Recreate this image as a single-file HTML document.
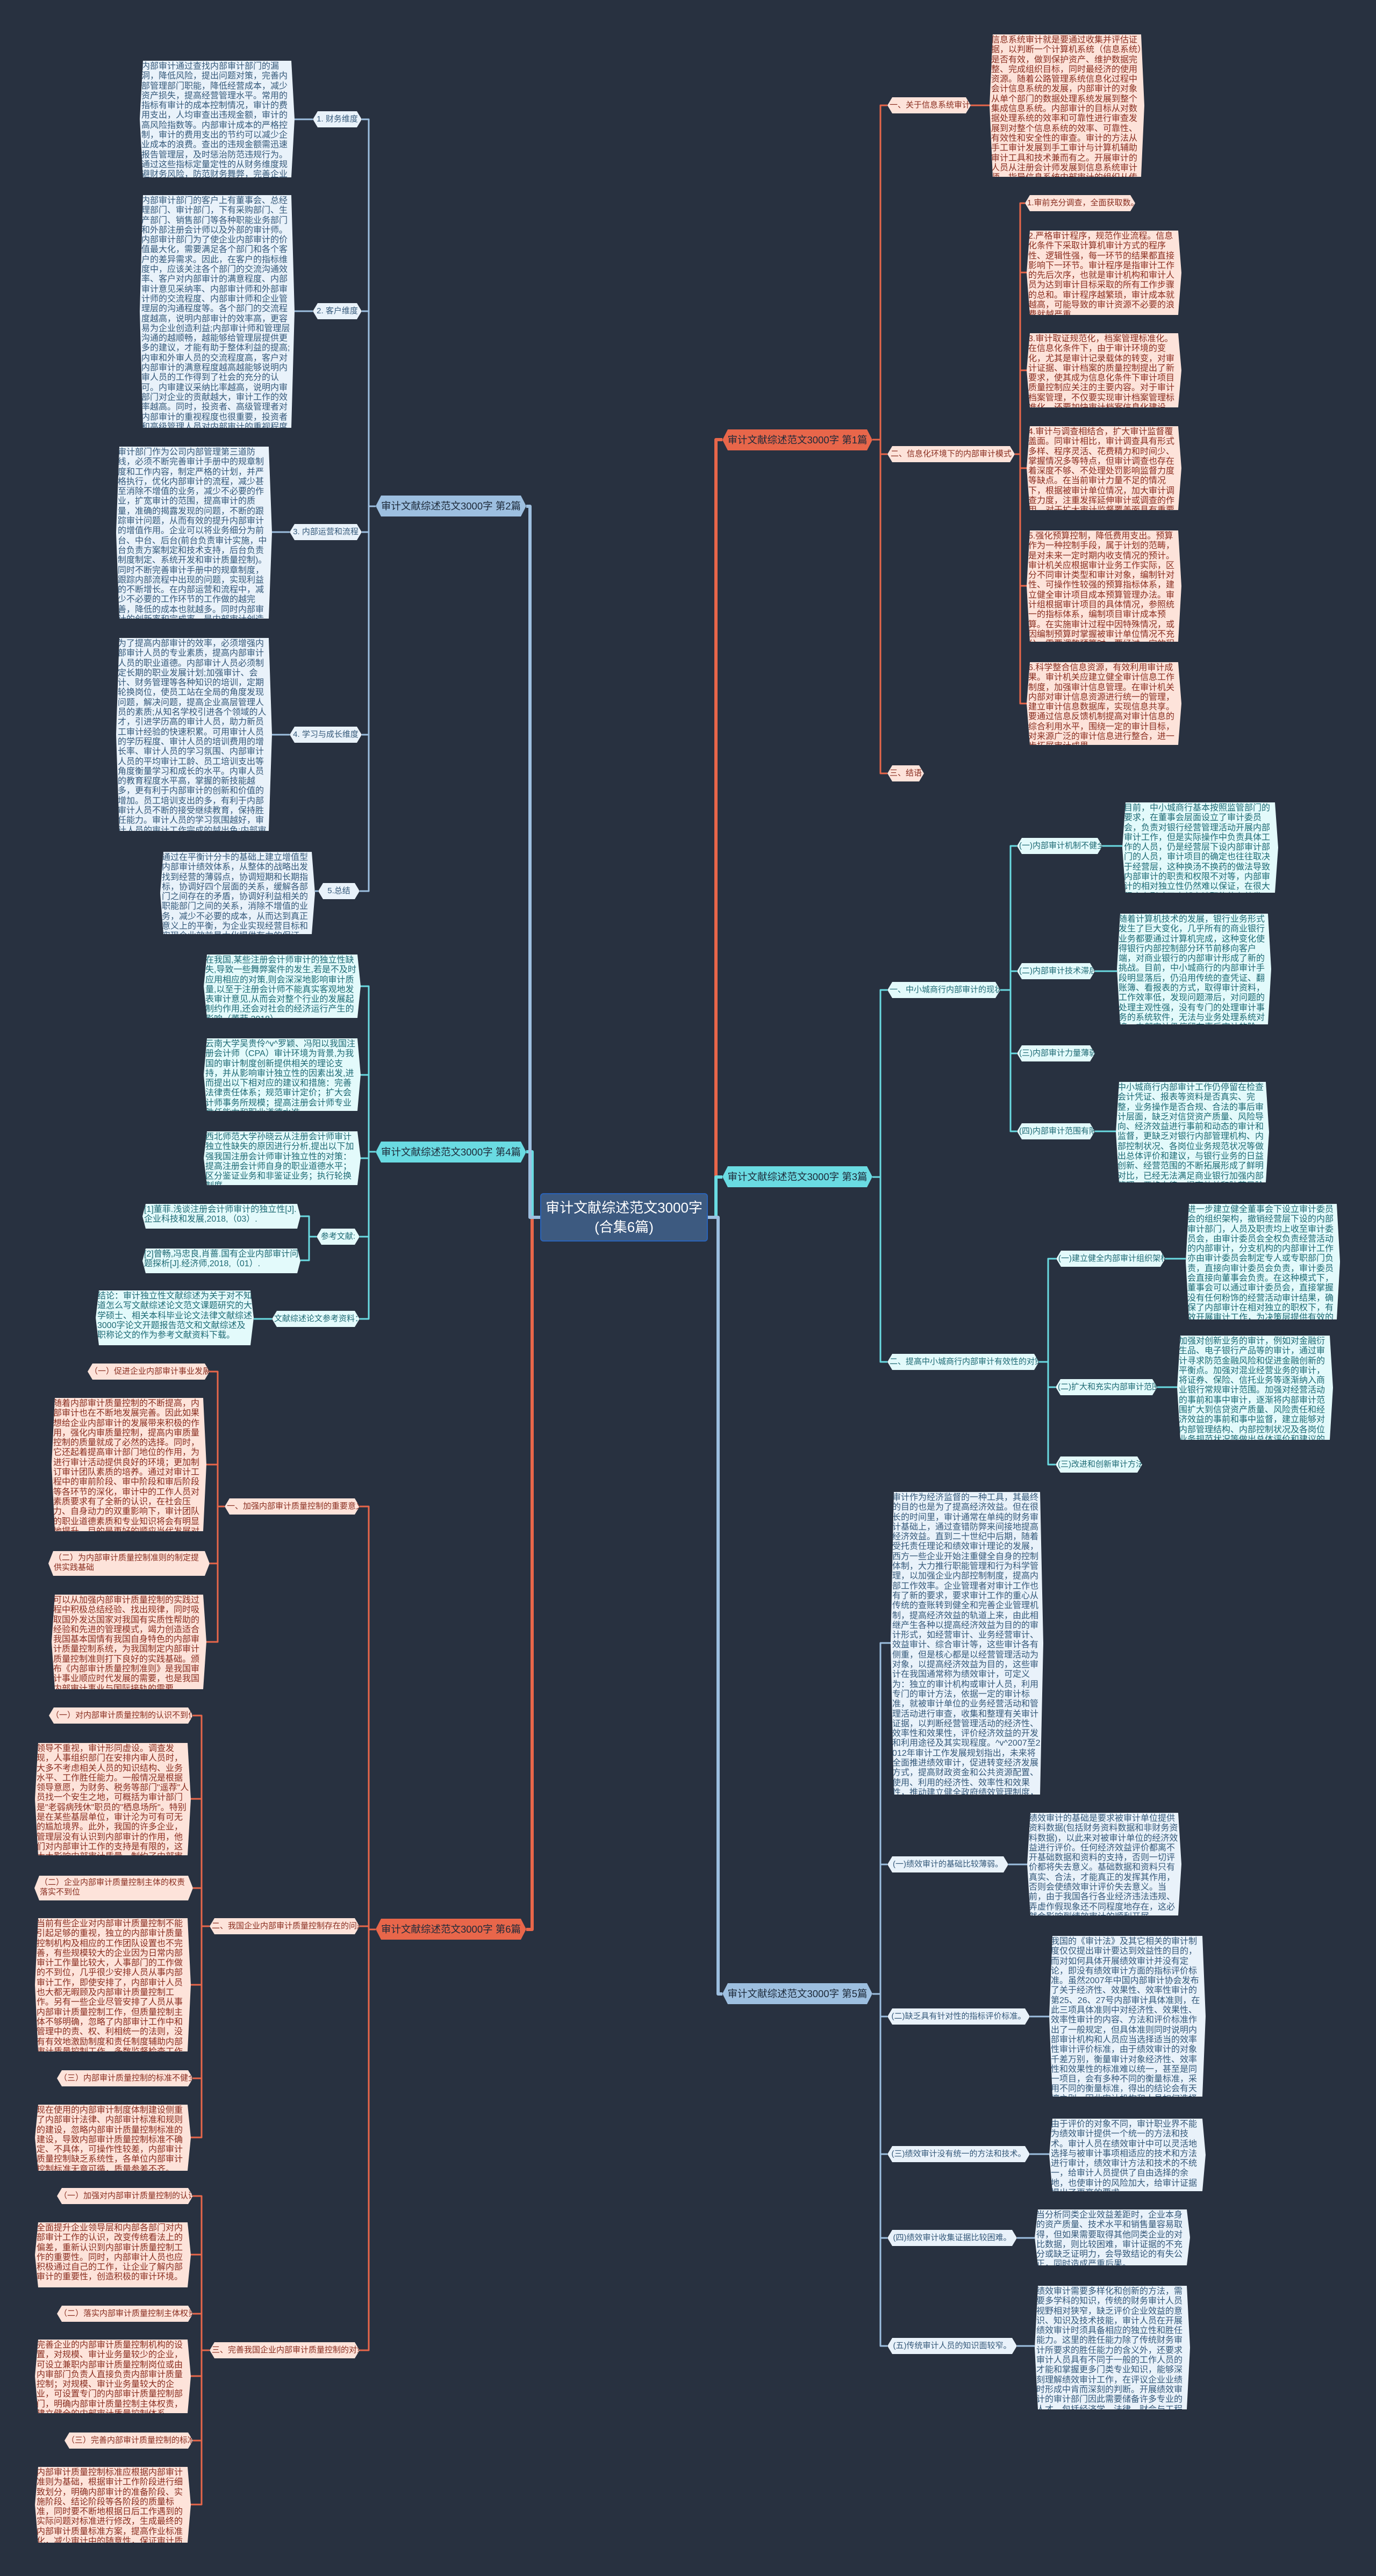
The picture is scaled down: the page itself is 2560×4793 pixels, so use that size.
<!DOCTYPE html>
<html><head><meta charset="utf-8">
<style>
html,body{margin:0;padding:0}
body{width:2560px;height:4793px;background:#283140;position:relative;overflow:hidden;font-family:"Liberation Sans","Noto Sans CJK SC",sans-serif}
svg{position:absolute;left:0;top:0}
.b{position:absolute;font-size:16px;line-height:18.3px;overflow:hidden;box-sizing:border-box;padding:2px 3px;word-break:break-all;clip-path:polygon(6px 0,calc(100% - 6px) 0,100% 50%,calc(100% - 6px) 100%,6px 100%,0 50%)}
.l{position:absolute;height:30px;line-height:30px;font-size:15px;white-space:nowrap;text-align:center;box-sizing:border-box;padding:0 4px;overflow:hidden;clip-path:polygon(9px 0,calc(100% - 9px) 0,100% 50%,calc(100% - 9px) 100%,9px 100%,0 50%)}
.l2{height:46px;line-height:18.3px;white-space:normal;padding:4px 10px 0;text-align:left}
.o{background:#fde3da;color:#8a2e20}
.g{background:#e9f2fa;color:#35597a}
.c{background:#e3fafb;color:#1e6a74}
.br{position:absolute;height:39px;line-height:39px;font-size:18.5px;white-space:nowrap;text-align:center;color:#1d2a3a;clip-path:polygon(10px 0,calc(100% - 10px) 0,100% 50%,calc(100% - 10px) 100%,10px 100%,0 50%)}
</style></head><body>
<svg width="2560" height="4793" fill="none" stroke-linejoin="round">
<g stroke="#e8664a" stroke-width="6">
<path d="M1317 2265H1332V818H1344"/>
<path d="M1005 2265H990V3590H979"/>
</g>
<g stroke="#6adbe2" stroke-width="6">
<path d="M1317 2265H1332V2190H1344"/>
<path d="M1005 2265H990V2143H979"/>
</g>
<g stroke="#9dbfe0" stroke-width="6">
<path d="M1317 2265H1336V3710H1344"/>
<path d="M1005 2265H986V942H979"/>
</g>
<g stroke="#e8664a" stroke-width="3">
<path d="M1623 818H1638V196H1651M1638 818V1439H1651M1638 845H1651"/>
<path d="M1806 196H1841"/>
<path d="M1888 845H1898V378H1907M1898 845V1309H1910M1898 507H1910M1898 689H1910M1898 871H1910M1898 1090H1910"/>
<path d="M699 3590H686V2803H669M686 3590V4373H669M686 3584H669"/>
<path d="M418 2803H405V2552H390M405 2803V3055H384M405 2725H384M405 2909H390"/>
<path d="M390 3584H375V3192H359M375 3584V3977H355M375 3347H355M375 3513H359M375 3693H355M375 3867H359"/>
<path d="M390 4373H375V4086H359M375 4373V4660H355M375 4195H355M375 4305H359M375 4421H355M375 4541H359"/>
</g>
<g stroke="#6adbe2" stroke-width="3">
<path d="M1623 2190H1638V1842H1651M1638 2190V2534H1651"/>
<path d="M1861 1842H1880V1574H1892M1880 1842V2105H1892M1880 1807H1892M1880 1960H1892"/>
<path d="M2051 1574H2088M2037 1807H2078M2037 2105H2076"/>
<path d="M1933 2534H1950V2342H1965M1950 2534V2725H1964M1950 2581H1964"/>
<path d="M2168 2342H2206M2153 2581H2190"/>
<path d="M699 2143H686V1835H671M686 2143V2454H669M686 2000H671M686 2155H671M686 2301H669"/>
<path d="M589 2301H575V2263H559M575 2301V2345H559M506 2454H472"/>
</g>
<g stroke="#9dbfe0" stroke-width="3">
<path d="M1623 3710H1638V3057H1657M1638 3710V4365H1651M1638 3469H1651M1638 3752H1651M1638 4008H1651M1638 4164H1651"/>
<path d="M1876 3469H1911M1916 3752H1952M1916 4008H1952M1892 4164H1925M1892 4365H1925"/>
<path d="M699 942H686V222H673M686 942V1658H669M686 579H673M686 990H673M686 1367H673"/>
<path d="M582 222H548M582 579H548M539 990H506M539 1367H506M592 1658H586"/>
</g>
</svg>

<div style="position:absolute;left:1005px;top:2220px;width:312px;height:90px;background:#3d5a80;border:2px solid #2a63b8;box-sizing:border-box;border-radius:6px;color:#fff;font-size:26px;line-height:36px;text-align:center;padding-top:7px;white-space:nowrap">审计文献综述范文3000字<br>(合集6篇)</div>

<div class="br" style="left:1344px;top:799px;width:279px;background:#e8664a">审计文献综述范文3000字 第1篇</div>
<div class="br" style="left:1344px;top:2170px;width:279px;background:#6adbe2">审计文献综述范文3000字 第3篇</div>
<div class="br" style="left:1344px;top:3690px;width:279px;background:#9dbfe0">审计文献综述范文3000字 第5篇</div>
<div class="br" style="left:699px;top:922px;width:280px;background:#9dbfe0">审计文献综述范文3000字 第2篇</div>
<div class="br" style="left:699px;top:2124px;width:280px;background:#6adbe2">审计文献综述范文3000字 第4篇</div>
<div class="br" style="left:699px;top:3570px;width:280px;background:#e8664a">审计文献综述范文3000字 第6篇</div>

<div class="l o" style="left:1651px;top:181px;width:155px">一、关于信息系统审计</div>
<div class="b o" style="left:1841px;top:64px;width:288px;height:265px">信息系统审计就是要通过收集并评估证据，以判断一个计算机系统（信息系统）是否有效，做到保护资产、维护数据完整、完成组织目标，同时最经济的使用资源。随着公路管理系统信息化过程中会计信息系统的发展，内部审计的对象从单个部门的数据处理系统发展到整个集成信息系统。内部审计的目标从对数据处理系统的效率和可靠性进行审查发展到对整个信息系统的效率、可靠性、有效性和安全性的审查。审计的方法从手工审计发展到手工审计与计算机辅助审计工具和技术兼而有之。开展审计的人员从注册会计师发展到信息系统审计师，指导信息系统内部审计的组织从传统的审计机关和组织发展成为专业的审计组织。</div>
<div class="l o" style="left:1651px;top:830px;width:237px">二、信息化环境下的内部审计模式</div>
<div class="l o" style="left:1651px;top:1424px;width:68px">三、结语</div>
<div class="l o" style="left:1907px;top:363px;width:205px">1.审前充分调查，全面获取数。</div>
<div class="b o" style="left:1910px;top:429px;width:288px;height:157px">2.严格审计程序，规范作业流程。信息化条件下采取计算机审计方式的程序性、逻辑性强，每一环节的结果都直接影响下一环节。审计程序是指审计工作的先后次序，也就是审计机构和审计人员为达到审计目标采取的所有工作步骤的总和。审计程序越繁琐，审计成本就越高，可能导致的审计资源不必要的浪费就越严重。</div>
<div class="b o" style="left:1910px;top:620px;width:288px;height:138px">3.审计取证规范化，档案管理标准化。在信息化条件下，由于审计环境的变化，尤其是审计记录载体的转变，对审计证据、审计档案的质量控制提出了新要求，使其成为信息化条件下审计项目质量控制应关注的主要内容。对于审计档案管理，不仅要实现审计档案管理标准化，还要加快审计档案信息化建设。</div>
<div class="b o" style="left:1910px;top:793px;width:288px;height:156px">4.审计与调查相结合，扩大审计监督覆盖面。同审计相比，审计调查具有形式多样、程序灵活、花费精力和时间少、掌握情况多等特点，但审计调查也存在着深度不够、不处理处罚影响监督力度等缺点。在当前审计力量不足的情况下，根据被审计单位情况，加大审计调查力度，注重发挥延伸审计或调查的作用，对于扩大审计监督覆盖面具有重要的作用。</div>
<div class="b o" style="left:1910px;top:987px;width:288px;height:207px">5.强化预算控制，降低费用支出。预算作为一种控制手段，属于计划的范畴，是对未来一定时期内收支情况的预计。审计机关应根据审计业务工作实际，区分不同审计类型和审计对象，编制针对性、可操作性较强的预算指标体系，建立健全审计项目成本预算管理办法。审计组根据审计项目的具体情况，参照统一的指标体系，编制项目审计成本预算。在实施审计过程中因特殊情况，或因编制预算时掌握被审计单位情况不充分，需要调整预算时，要经过一定的程序审批，强化机关经费的预算管理。</div>
<div class="b o" style="left:1910px;top:1232px;width:288px;height:154px">6.科学整合信息资源，有效利用审计成果。审计机关应建立健全审计信息工作制度，加强审计信息管理。在审计机关内部对审计信息资源进行统一的管理，建立审计信息数据库，实现信息共享。要通过信息反馈机制提高对审计信息的综合利用水平，围绕一定的审计目标，对来源广泛的审计信息进行整合，进一步拓展审计成果。</div>

<div class="l c" style="left:1651px;top:1827px;width:210px">一、中小城商行内部审计的现状</div>
<div class="l c" style="left:1892px;top:1559px;width:159px">(一)内部审计机制不健全</div>
<div class="b c" style="left:2088px;top:1493px;width:290px;height:168px">目前，中小城商行基本按照监管部门的要求，在董事会层面设立了审计委员会，负责对银行经营管理活动开展内部审计工作，但是实际操作中负责具体工作的人员，仍是经营层下设内部审计部门的人员，审计项目的确定也往往取决于经营层，这种换汤不换药的做法导致内部审计的职责和权限不对等，内部审计的相对独立性仍然难以保证，在很大程度上影响了内部审计职能的有效发挥。</div>
<div class="l c" style="left:1892px;top:1792px;width:145px">(二)内部审计技术滞后</div>
<div class="b c" style="left:2078px;top:1700px;width:287px;height:206px">随着计算机技术的发展，银行业务形式发生了巨大变化，几乎所有的商业银行业务都要通过计算机完成，这种变化使得银行内部控制部分环节前移向客户端，对商业银行的内部审计形成了新的挑战。目前，中小城商行的内部审计手段明显落后，仍沿用传统的查凭证、翻账簿、看报表的方式，取得审计资料，工作效率低，发现问题滞后，对问题的处理主观性强，没有专门的处理审计事务的系统软件，无法与业务处理系统对接，内部审计仍停留在事后审计的阶段。</div>
<div class="l c" style="left:1892px;top:1945px;width:145px">(三)内部审计力量薄弱</div>
<div class="l c" style="left:1892px;top:2090px;width:145px">(四)内部审计范围有限</div>
<div class="b c" style="left:2076px;top:2013px;width:285px;height:187px">中小城商行内部审计工作仍停留在检查会计凭证、报表等资料是否真实、完整，业务操作是否合规、合法的事后审计层面，缺乏对信贷资产质量、风险导向、经济效益进行事前和动态的审计和监督，更缺乏对银行内部管理机构、内部控制状况、各岗位业务规范状况等做出总体评价和建议，与银行业务的日益创新、经营范围的不断拓展形成了鲜明对比，已经无法满足商业银行加强内部管理、严格自律、提高效益和防范风险的内在需要。</div>
<div class="l c" style="left:1651px;top:2519px;width:282px">二、提高中小城商行内部审计有效性的对策</div>
<div class="l c" style="left:1965px;top:2327px;width:203px">(一)建立健全内部审计组织架构</div>
<div class="b c" style="left:2206px;top:2240px;width:287px;height:215px">进一步建立健全董事会下设立审计委员会的组织架构，撤销经营层下设的内部审计部门，人员及职责均上收至审计委员会，由审计委员会全权负责经营活动的内部审计，分支机构的内部审计工作亦由审计委员会制定专人或专职部门负责，直接向审计委员会负责，审计委员会直接向董事会负责。在这种模式下，董事会可以通过审计委员会，直接掌握没有任何粉饰的经营活动审计结果，确保了内部审计在相对独立的职权下，有效开展审计工作，为决策层提供有效的决策依据。</div>
<div class="l c" style="left:1964px;top:2566px;width:189px">(二)扩大和充实内部审计范围</div>
<div class="b c" style="left:2190px;top:2485px;width:290px;height:194px">加强对创新业务的审计，例如对金融衍生品、电子银行产品等的审计，通过审计寻求防范金融风险和促进金融创新的平衡点。加强对混业经营业务的审计，将证券、保险、信托业务等逐渐纳入商业银行常规审计范围。加强对经营活动的事前和事中审计，逐渐将内部审计范围扩大到信贷资产质量、风险责任和经济效益的事前和事中监督，建立能够对内部管理结构、内部控制状况及各岗位业务规范状况等做出总体评价和建议的全流程内部审计。</div>
<div class="l c" style="left:1964px;top:2710px;width:161px">(三)改进和创新审计方法</div>

<div class="b g" style="left:1657px;top:2776px;width:284px;height:563px">审计作为经济监督的一种工具，其最终的目的也是为了提高经济效益。但在很长的时间里，审计通常在单纯的财务审计基础上，通过查错防弊来间接地提高经济效益。直到二十世纪中后期，随着受托责任理论和绩效审计理论的发展，西方一些企业开始注重健全自身的控制体制，大力推行职能管理和行为科学管理，以加强企业内部控制制度，提高内部工作效率。企业管理者对审计工作也有了新的要求，要求审计工作的重心从传统的查账转到健全和完善企业管理机制，提高经济效益的轨道上来，由此相继产生各种以提高经济效益为目的的审计形式，如经营审计、业务经营审计、效益审计、综合审计等，这些审计各有侧重，但是核心都是以经营管理活动为对象，以提高经济效益为目的，这些审计在我国通常称为绩效审计，可定义为：独立的审计机构或审计人员，利用专门的审计方法，依据一定的审计标准，就被审计单位的业务经营活动和管理活动进行审查，收集和整理有关审计证据，以判断经营管理活动的经济性、效率性和效果性，评价经济效益的开发和利用途径及其实现程度。^v^2007至2012年审计工作发展规划指出，未来将全面推进绩效审计，促进转变经济发展方式，提高财政资金和公共资源配置、使用、利用的经济性、效率性和效果性，推动建立健全政府绩效管理制度，逐年加大绩效审计份量，争取到2012年，每年所有的审计项目都开展绩效审计并基本建立起符合我国发展实际的绩效审计方法体系。</div>
<div class="l g" style="left:1651px;top:3454px;width:225px">(一)绩效审计的基础比较薄弱。</div>
<div class="b g" style="left:1911px;top:3373px;width:287px;height:191px">绩效审计的基础是要求被审计单位提供资料数据(包括财务资料数据和非财务资料数据)，以此来对被审计单位的经济效益进行评价。任何经济效益评价都离不开基础数据和资料的支持，否则一切评价都将失去意义。基础数据和资料只有真实、合法，才能真正的发挥其作用，否则会使绩效审计评价失去意义。当前，由于我国各行各业经济违法违规、弄虚作假现象还不同程度地存在，这必然会影响到绩效审计的顺利开展。</div>
<div class="l g" style="left:1651px;top:3737px;width:265px">(二)缺乏具有针对性的指标评价标准。</div>
<div class="b g" style="left:1952px;top:3602px;width:291px;height:299px">我国的《审计法》及其它相关的审计制度仅仅提出审计要达到效益性的目的，而对如何具体开展绩效审计并没有定论，即没有绩效审计方面的指标评价标准。虽然2007年中国内部审计协会发布了关于经济性、效果性、效率性审计的第25、26、27号内部审计具体准则，在此三项具体准则中对经济性、效果性、效率性审计的内容、方法和评价标准作出了一般规定，但具体准则同时说明内部审计机构和人员应当选择适当的效率性审计评价标准，由于绩效审计的对象千差万别，衡量审计对象经济性、效率性和效果性的标准难以统一，甚至是同一项目，会有多种不同的衡量标准，采用不同的衡量标准，得出的结论会有天壤之别，因此审计机构和人员如何选择适当的指标评价标准存在很大的困难。</div>
<div class="l g" style="left:1651px;top:3993px;width:265px">(三)绩效审计没有统一的方法和技术。</div>
<div class="b g" style="left:1952px;top:3942px;width:291px;height:135px">由于评价的对象不同，审计职业界不能为绩效审计提供一个统一的方法和技术。审计人员在绩效审计中可以灵活地选择与被审计事项相适应的技术和方法进行审计，绩效审计方法和技术的不统一，给审计人员提供了自由选择的余地，也使审计的风险加大，给审计证据提出了更高的要求。</div>
<div class="l g" style="left:1651px;top:4149px;width:241px">(四)绩效审计收集证据比较困难。</div>
<div class="b g" style="left:1925px;top:4111px;width:289px;height:104px">当分析同类企业效益差距时，企业本身的资产质量、技术水平和销售量容易取得，但如果需要取得其他同类企业的对比数据，则比较困难，审计证据的不充分或缺乏证明力，会导致结论的有失公正，同时造成严重后果。</div>
<div class="l g" style="left:1651px;top:4350px;width:241px">(五)传统审计人员的知识面较窄。</div>
<div class="b g" style="left:1925px;top:4253px;width:289px;height:230px">绩效审计需要多样化和创新的方法，需要多学科的知识，传统的财务审计人员视野相对狭窄，缺乏评价企业效益的意识、知识及技术技能，审计人员在开展绩效审计时须具备相应的独立性和胜任能力。这里的胜任能力除了传统财务审计所要求的胜任能力的含义外，还要求审计人员具有不同于一般的工作人员的才能和掌握更多门类专业知识，能够深刻理解绩效审计工作，在评议企业业绩时形成中肯而深刻的判断。开展绩效审计的审计部门因此需要储备许多专业的人才，包括经济学、法律、财会与工程方面的人才等。</div>

<div class="l g" style="left:582px;top:207px;width:91px">1. 财务维度</div>
<div class="b g" style="left:260px;top:113px;width:288px;height:217px">内部审计通过查找内部审计部门的漏洞，降低风险，提出问题对策，完善内部管理部门职能，降低经营成本，减少资产损失，提高经营管理水平。常用的指标有审计的成本控制情况，审计的费用支出，人均审查出违规金额，审计的高风险指数等。内部审计成本的严格控制，审计的费用支出的节约可以减少企业成本的浪费。查出的违规金额需迅速报告管理层，及时惩治防范违规行为。通过这些指标定量定性的从财务维度规避财务风险，防范财务舞弊，完善企业的内部审计绩效。</div>
<div class="l g" style="left:582px;top:564px;width:91px">2. 客户维度</div>
<div class="b g" style="left:260px;top:363px;width:288px;height:433px">内部审计部门的客户上有董事会、总经理部门、审计部门，下有采购部门、生产部门、销售部门等各种职能业务部门和外部注册会计师以及外部的审计师。内部审计部门为了使企业内部审计的价值最大化，需要满足各个部门和各个客户的差异需求。因此，在客户的指标维度中，应该关注各个部门的交流沟通效率、客户对内部审计的满意程度、内部审计意见采纳率、内部审计师和外部审计师的交流程度、内部审计师和企业管理层的沟通程度等。各个部门的交流程度越高，说明内部审计的效率高，更容易为企业创造利益;内部审计师和管理层沟通的越顺畅，越能够给管理层提供更多的建议，才能有助于整体利益的提高;内审和外审人员的交流程度高，客户对内部审计的满意程度越高越能够说明内审人员的工作得到了社会的充分的认可。内审建议采纳比率越高，说明内审部门对企业的贡献越大，审计工作的效率越高。同时，投资者、高级管理者对内部审计的重视程度也很重要，投资者和高级管理人员对内部审计的重视程度越高，越加大财力物力的投资和管理，内部审计部门的运转才能创造更多的价值。</div>
<div class="l g" style="left:539px;top:975px;width:134px">3. 内部运营和流程</div>
<div class="b g" style="left:216px;top:831px;width:290px;height:320px">审计部门作为公司内部管理第三道防线，必须不断完善审计手册中的规章制度和工作内容，制定严格的计划，并严格执行，优化内部审计的流程，减少甚至消除不增值的业务，减少不必要的作业，扩宽审计的范围，提高审计的质量，准确的揭露发现的问题，不断的跟踪审计问题，从而有效的提升内部审计的增值作用。企业可以将业务细分为前台、中台、后台(前台负责审计实施，中台负责方案制定和技术支持，后台负责制度制定、系统开发和审计质量控制)。同时不断完善审计手册中的规章制度，跟踪内部流程中出现的问题，实现利益的不断增长。在内部运营和流程中，减少不必要的工作环节的工作做的越完善，降低的成本也就越多。同时内部审计的创新率和完成率，是内部审计创造价值的基础。内审防范风险的情况也可以规避不必要发成本的发生。</div>
<div class="l g" style="left:539px;top:1352px;width:134px">4. 学习与成长维度</div>
<div class="b g" style="left:216px;top:1187px;width:290px;height:359px">为了提高内部审计的效率，必须增强内部审计人员的专业素质，提高内部审计人员的职业道德。内部审计人员必须制定长期的职业发展计划;加强审计、会计、财务管理等各种知识的培训，定期轮换岗位，使员工站在全局的角度发现问题，解决问题，提高企业高层管理人员的素质;从知名学校引进各个领域的人才，引进学历高的审计人员，助力新员工审计经验的快速积累。可用审计人员的学历程度、审计人员的培训费用的增长率、审计人员的学习氛围、内部审计人员的平均审计工龄、员工培训支出等角度衡量学习和成长的水平。内审人员的教育程度水平高，掌握的新技能越多，更有利于内部审计的创新和价值的增加。员工培训支出的多，有利于内部审计人员不断的接受继续教育，保持胜任能力。审计人员的学习氛围越好，审计人员的审计工作完成的越出色;内部审计信息采纳条数多，说明内部审计部门的创新力的进一步提高。</div>
<div class="l g" style="left:592px;top:1643px;width:77px">5.总结</div>
<div class="b g" style="left:298px;top:1585px;width:288px;height:153px">通过在平衡计分卡的基础上建立增值型内部审计绩效体系，从整体的战略出发找到经营的薄弱点，协调短期和长期指标，协调好四个层面的关系，缓解各部门之间存在的矛盾，协调好利益相关的职能部门之间的关系，消除不增值的业务，减少不必要的成本，从而达到真正意义上的平衡，为企业实现经营目标和实现企业效益最大化提供有力的保证。</div>

<div class="b c" style="left:379px;top:1776px;width:292px;height:118px">在我国,某些注册会计师审计的独立性缺失,导致一些舞弊案件的发生,若是不及时应用相应的对策,则会深深地影响审计质量,以至于注册会计师不能真实客观地发表审计意见,从而会对整个行业的发展起制约作用,还会对社会的经济运行产生的影响（董菲,2018）。</div>
<div class="b c" style="left:379px;top:1932px;width:292px;height:135px">云南大学吴贵伶^v^罗颖、冯阳以我国注册会计师（CPA）审计环境为背景,为我国的审计制度创新提供相关的理论支持，并从影响审计独立性的因素出发,进而提出以下相对应的建议和措施：完善法律责任体系；规范审计定价；扩大会计师事务所规模；提高注册会计师专业胜任能力和职业道德水准。</div>
<div class="b c" style="left:379px;top:2105px;width:292px;height:100px">西北师范大学孙晓云从注册会计师审计独立性缺失的原因进行分析,提出以下加强我国注册会计师审计独立性的对策：提高注册会计师自身的职业道德水平；区分鉴证业务和非鉴证业务；执行轮换制度。</div>
<div class="l c" style="left:589px;top:2286px;width:80px">参考文献:</div>
<div class="b c" style="left:265px;top:2240px;width:294px;height:46px">[1]董菲.浅谈注册会计师审计的独立性[J].企业科技和发展,2018,（03）.</div>
<div class="b c" style="left:265px;top:2323px;width:294px;height:46px">[2]曾畅,冯忠良,肖蔷.国有企业内部审计问题探析[J].经济师,2018,（01）.</div>
<div class="l c" style="left:506px;top:2439px;width:163px">文献综述论文参考资料：</div>
<div class="b c" style="left:178px;top:2401px;width:294px;height:102px">结论：审计独立性文献综述为关于对不知道怎么写文献综述论文范文课题研究的大学硕士、相关本科毕业论文法律文献综述3000字论文开题报告范文和文献综述及职称论文的作为参考文献资料下载。</div>

<div class="l o" style="left:418px;top:2788px;width:251px">一、加强内部审计质量控制的重要意义</div>
<div class="l o" style="left:163px;top:2537px;width:227px">（一）促进企业内部审计事业发展</div>
<div class="b o" style="left:96px;top:2601px;width:288px;height:248px">随着内部审计质量控制的不断提高，内部审计也在不断地发展完善。因此如果想给企业内部审计的发展带来积极的作用，强化内审质量控制，提高内审质量控制的质量就成了必然的选择。同时，它还起着提高审计部门地位的作用，为进行审计活动提供良好的环境；更加制订审计团队素质的培养。通过对审计工程中的审前阶段、审中阶段和审后阶段等各环节的深化，审计中的工作人员对素质要求有了全新的认识，在社会压力、自身动力的双重影响下，审计团队的职业道德素质和专业知识将会有明显地提升，目的是更好的顺应当代发展对内部审计的需要。</div>
<div class="l o l2" style="left:90px;top:2886px;width:300px">（二）为内部审计质量控制准则的制定提供实践基础</div>
<div class="b o" style="left:96px;top:2967px;width:288px;height:176px">可以从加强内部审计质量控制的实践过程中积极总结经验、找出规律，同时吸取国外发达国家对我国有实质性帮助的经验和先进的管理模式，竭力创造适合我国基本国情有我国自身特色的内部审计质量控制系统，为我国制定内部审计质量控制准则打下良好的实践基础。颁布《内部审计质量控制准则》是我国审计事业顺应时代发展的需要，也是我国内部审计事业与国际接轨的需要。</div>
<div class="l o" style="left:390px;top:3569px;width:279px">二、我国企业内部审计质量控制存在的问题</div>
<div class="l o" style="left:91px;top:3177px;width:268px">（一）对内部审计质量控制的认识不到位</div>
<div class="b o" style="left:65px;top:3243px;width:290px;height:209px">领导不重视，审计形同虚设。调查发现，人事组织部门在安排内审人员时，大多不考虑相关人员的知识结构、业务水平、工作胜任能力。一般情况是根据领导意愿，为财务、税务等部门"遥荐"人员找一个安生之地，可概括为审计部门是"老弱病残休"职员的"栖息场所"。特别是在某些基层单位，审计沦为可有可无的尴尬境界。此外，我国的许多企业，管理层没有认识到内部审计的作用，他们对内部审计工作的支持是有限的，这大大影响内部审计质量，制约了内部审计的发展。</div>
<div class="l o l2" style="left:64px;top:3490px;width:295px">（二）企业内部审计质量控制主体的权责落实不到位</div>
<div class="b o" style="left:65px;top:3569px;width:290px;height:248px">当前有些企业对内部审计质量控制不能引起足够的重视，独立的内部审计质量控制机构及相应的工作团队设置也不完善，有些规模较大的企业因为日常内部审计工作量比较大，人事部门的工作做的不到位，几乎很少安排人员从事内部审计工作，即使安排了，内部审计人员也大都无暇顾及内部审计质量控制工作。另有一些企业尽管安排了人员从事内部审计质量控制工作，但质量控制主体不够明确，忽略了内部审计工作中和管理中的责、权、利相统一的法则，没有有效地激励制度和责任制度辅助内部审计质量控制工作，多数监督检查工作草草了事，没有发挥真正的作用。</div>
<div class="l o" style="left:106px;top:3852px;width:253px">（三）内部审计质量控制的标准不健全</div>
<div class="b o" style="left:65px;top:3916px;width:290px;height:123px">现在使用的内部审计制度体制建设侧重了内部审计法律、内部审计标准和规则的建设，忽略内部审计质量控制标准的建设，导致内部审计质量控制标准不确定、不具体，可操作性较差，内部审计质量控制缺乏系统性，各单位内部审计控制标准无章可循，质量参差不齐。</div>
<div class="l o" style="left:390px;top:4358px;width:279px">三、完善我国企业内部审计质量控制的对策</div>
<div class="l o" style="left:106px;top:4071px;width:253px">（一）加强对内部审计质量控制的认识</div>
<div class="b o" style="left:65px;top:4135px;width:290px;height:121px">全面提升企业领导层和内部各部门对内部审计工作的认识，改变传统看法上的偏差，重新认识到内部审计质量控制工作的重要性。同时，内部审计人员也应积极通过自己的工作，让企业了解内部审计的重要性，创造积极的审计环境。</div>
<div class="l o" style="left:106px;top:4290px;width:253px">（二）落实内部审计质量控制主体权责</div>
<div class="b o" style="left:65px;top:4353px;width:290px;height:137px">完善企业的内部审计质量控制机构的设置，对规模、审计业务量较少的企业，可设立兼职内部审计质量控制岗位或由内审部门负责人直接负责内部审计质量控制；对规模、审计业务量较大的企业，可设置专门的内部审计质量控制部门，明确内部审计质量控制主体权责，建立健全的内部审计质量控制体系。</div>
<div class="l o" style="left:120px;top:4526px;width:239px">（三）完善内部审计质量控制的标准</div>
<div class="b o" style="left:65px;top:4590px;width:290px;height:141px">内部审计质量控制标准应根据内部审计准则为基础，根据审计工作阶段进行细致划分，明确内部审计的准备阶段、实施阶段、结论阶段等各阶段的质量标准，同时要不断地根据日后工作遇到的实际问题对标准进行修改，生成最终的内部审计质量标准方案，提高作业标准化，减少审计中的随意性，保证审计质量。</div>
</body></html>
